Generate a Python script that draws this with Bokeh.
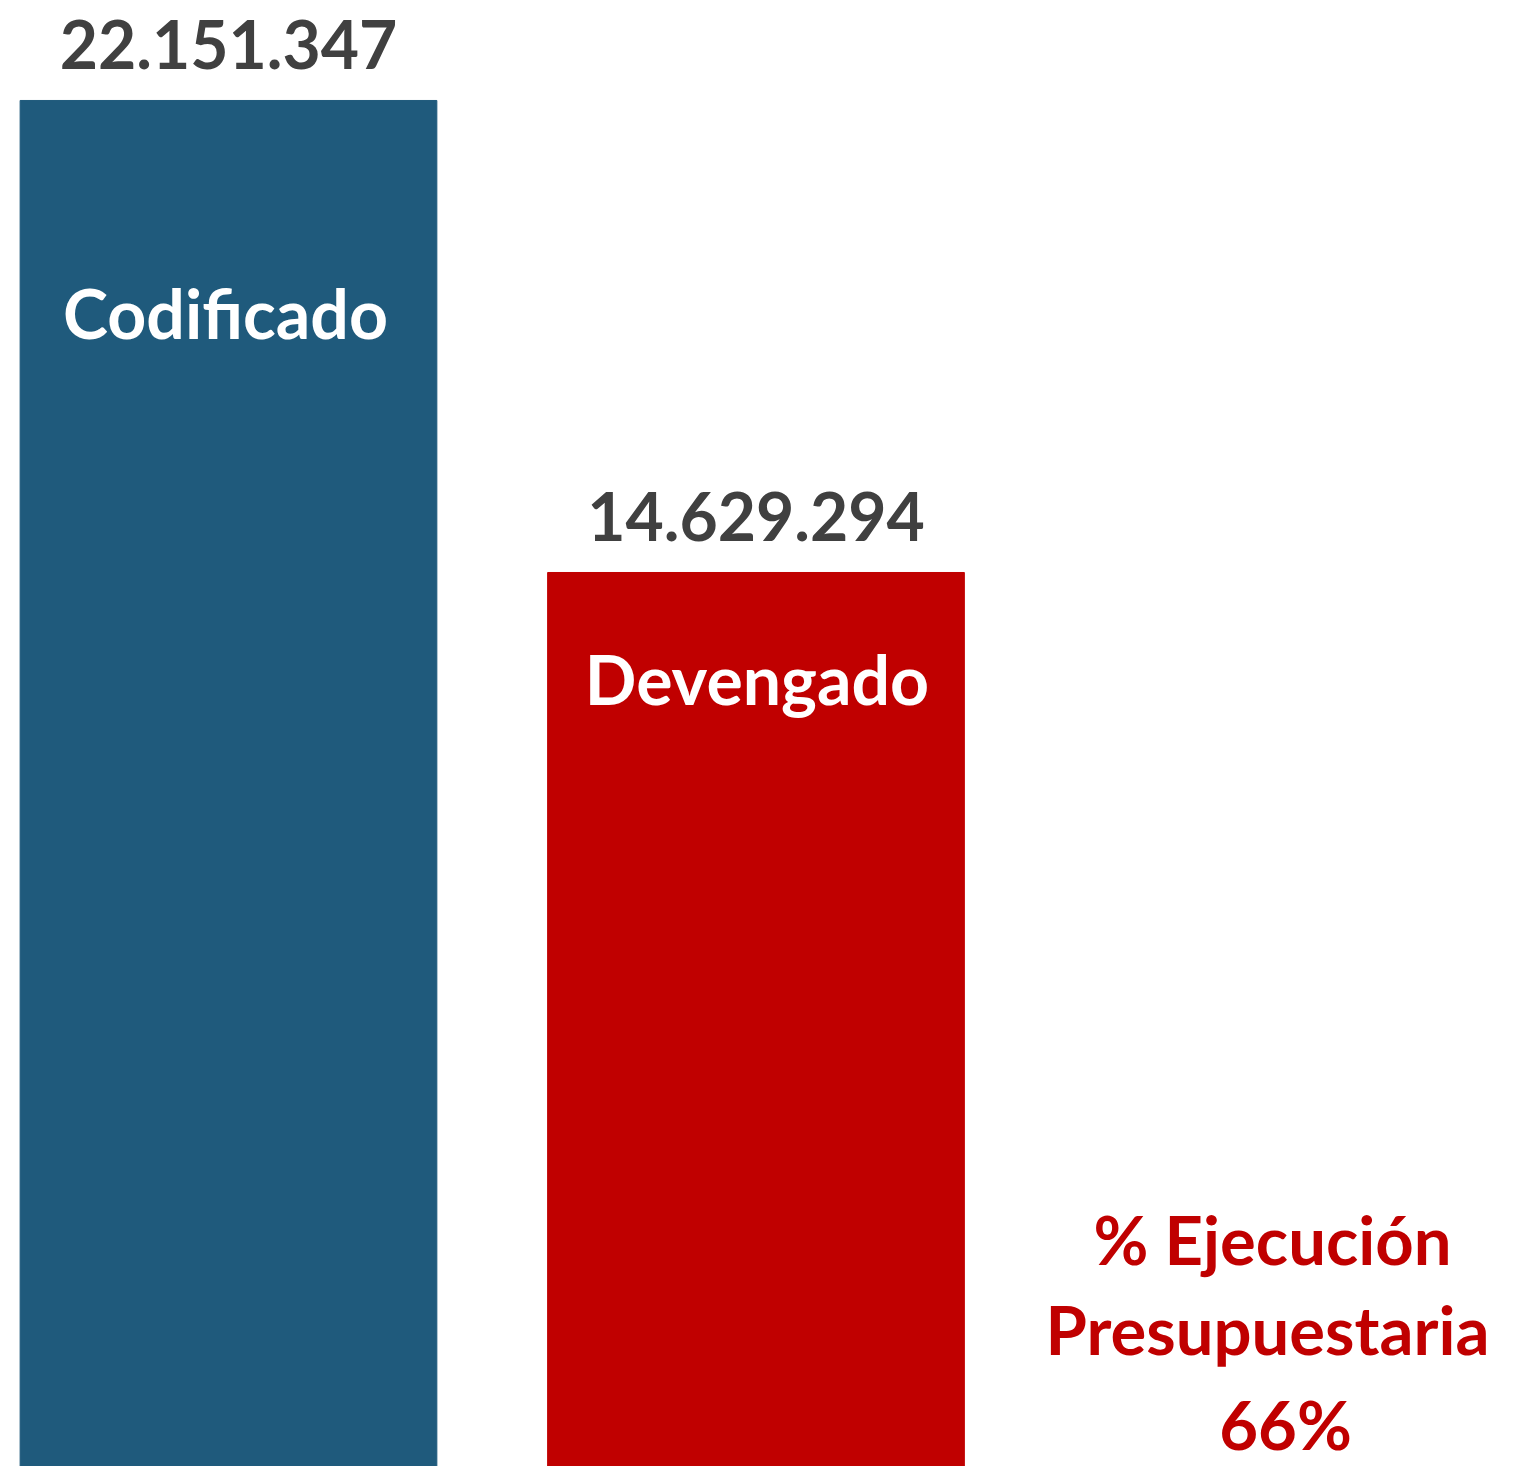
from bokeh.plotting import figure
from bokeh.models import ColumnDataSource, Range1d, Label
from bokeh.core.properties import value
from bokeh.embed import file_html
from bokeh.resources import INLINE

categories = ["Codificado", "Devengado", "% Ejecución"]
values = [22151347, 14629294]
value_labels = ["22.151.347", "14.629.294"]
bar_colors = ["#1F5A7C", "#C00000"]
pct_lines = ["% Ejecución", "Presupuestaria", "66%"]

FONT = "Lato"
H = 1466

p = figure(width=1498, height=H, output_backend="svg", toolbar_location=None,
           x_range=Range1d(-0.4322, 2.4076), y_range=Range1d(382464, 23744640),
           min_border=0)
p.xaxis.visible = False
p.yaxis.visible = False
p.xgrid.visible = False
p.ygrid.visible = False
p.outline_line_color = None
p.background_fill_color = "white"
p.border_fill_color = "white"

xs = list(range(len(values)))
src = ColumnDataSource(dict(x=xs, top=values, color=bar_colors, lbl=value_labels))
p.vbar(x="x", top="top", bottom=0, width=0.79, color="color", source=src)

p.text(x="x", y="top", text="lbl", source=src, y_offset=-56,
       text_align="center", text_baseline="alphabetic",
       text_font=value(FONT), text_font_style="bold", text_font_size="66px",
       text_color="#404040")

inner_offsets = [212, 106]
inner_dx = [-3, 1]
for i in range(len(values)):
    p.text(x=[xs[i]], y=[values[i]], text=[categories[i]], y_offset=inner_offsets[i],
           x_offset=inner_dx[i],
           text_align="center", text_baseline="alphabetic",
           text_font=value(FONT), text_font_style="bold", text_font_size="68px",
           text_color="white")

pct_y = [228, 138, 43]
pct_dx = [-11, -16, 2]
for line, yy, dx in zip(pct_lines, pct_y, pct_dx):
    p.add_layout(Label(x=2, y=yy, x_units="data", y_units="screen", x_offset=dx,
                       text=line, text_align="center", text_baseline="alphabetic",
                       text_font=FONT, text_font_style="bold", text_font_size="67px",
                       text_color="#C00000"))

open("out.html", "w").write(file_html(p, INLINE))
